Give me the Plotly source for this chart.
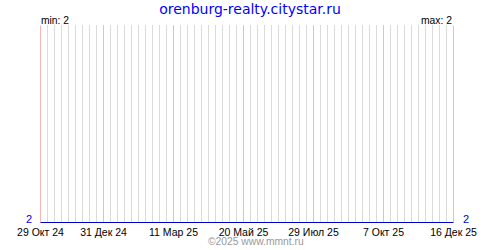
import plotly.graph_objects as go

# Data
dates = ["2024-10-29", "2025-12-16"]
values = [2, 2]

tick_dates = ["2024-10-29", "2024-12-31", "2025-03-11", "2025-05-20",
              "2025-07-29", "2025-10-07", "2025-12-16"]
tick_labels = ["29 Окт 24", "31 Дек 24", "11 Мар 25", "20 Май 25",
               "29 Июл 25", "7 Окт 25", "16 Дек 25"]

title_text = "orenburg-realty.citystar.ru"
min_text = "min: 2"
max_text = "max: 2"
copyright_text = "©2025 www.mmnt.ru"
y_min, y_max = 2, 2

# half-pixel padding so 1px lines sit on pixel centres
x_range = ["2024-10-28 12:00", "2025-12-16 12:00"]
y_pad = 0.5 / 200
y_range = [y_min - y_pad, y_min + 1 + y_pad]

# pink major lines as a line trace (drawn above the weekly grid)
mx, my = [], []
for d in tick_dates:
    mx += [d, d, None]
    my += [y_min + y_pad, y_min + 1, None]

fig = go.Figure()
fig.add_trace(go.Scatter(x=mx, y=my, mode="lines", connectgaps=False,
                         line=dict(color="#ffb4b4", width=1),
                         hoverinfo="skip", showlegend=False))
fig.add_trace(go.Scatter(x=dates, y=values, mode="lines",
                         line=dict(color="#0000cc", width=1),
                         hoverinfo="skip", showlegend=False))
fig.add_trace(go.Scatter(x=dates, y=values, mode="lines", yaxis="y2",
                         line=dict(color="rgba(0,0,0,0)", width=0),
                         hoverinfo="skip", showlegend=False))

small_font = dict(family="Liberation Sans", size=10.3, color="black")

fig.update_layout(
    width=500, height=250,
    margin=dict(l=40, r=46, t=25, b=24),
    paper_bgcolor="white", plot_bgcolor="white",
    title=dict(text=title_text, x=0.5, xanchor="center", yref="container",
               y=1, yanchor="top", pad=dict(t=4),
               font=dict(family="DejaVu Sans", size=14, color="#0000ff")),
    xaxis=dict(
        type="date",
        range=x_range,
        tickvals=tick_dates, ticktext=tick_labels,
        showgrid=False,
        minor=dict(dtick=7 * 86400000, tick0=tick_dates[0], showgrid=True,
                   gridcolor="#dadada", gridwidth=1, ticks=""),
        ticks="", showline=False, zeroline=False,
        tickfont=dict(family="Liberation Sans", size=10.5, color="black"),
        ticklabelstandoff=1,
    ),
    yaxis=dict(
        range=y_range, tickvals=[y_min, y_min + 1], ticktext=[str(y_min), ""],
        showgrid=True, gridcolor="#d0d0d0", gridwidth=1, zeroline=False,
        ticks="", showline=False,
        tickfont=dict(family="Liberation Sans", size=11, color="#0000cc"),
        ticklabelstandoff=7, ticklabelshift=-3,
    ),
    yaxis2=dict(
        overlaying="y", side="right",
        range=y_range, tickvals=[y_max], ticktext=[str(y_max)],
        showgrid=False, zeroline=False, ticks="", showline=False,
        tickfont=dict(family="Liberation Sans", size=11, color="#0000cc"),
        ticklabelstandoff=8, ticklabelshift=-3,
    ),
    annotations=[
        dict(text=min_text, xref="paper", yref="paper", x=0, y=1, xanchor="left",
             yanchor="bottom", showarrow=False, xshift=-1, yshift=-3,
             font=small_font),
        dict(text=max_text, xref="paper", yref="paper", x=1, y=1, xanchor="right",
             yanchor="bottom", showarrow=False, xshift=0, yshift=-3,
             font=small_font),
        dict(text=copyright_text, xref="paper", yref="paper", x=0.5, y=0,
             xanchor="center", yanchor="top", showarrow=False, xshift=9, yshift=-11,
             font=dict(family="Liberation Sans", size=10.3, color="#999999")),
    ],
)

fig.write_html("out.html")
